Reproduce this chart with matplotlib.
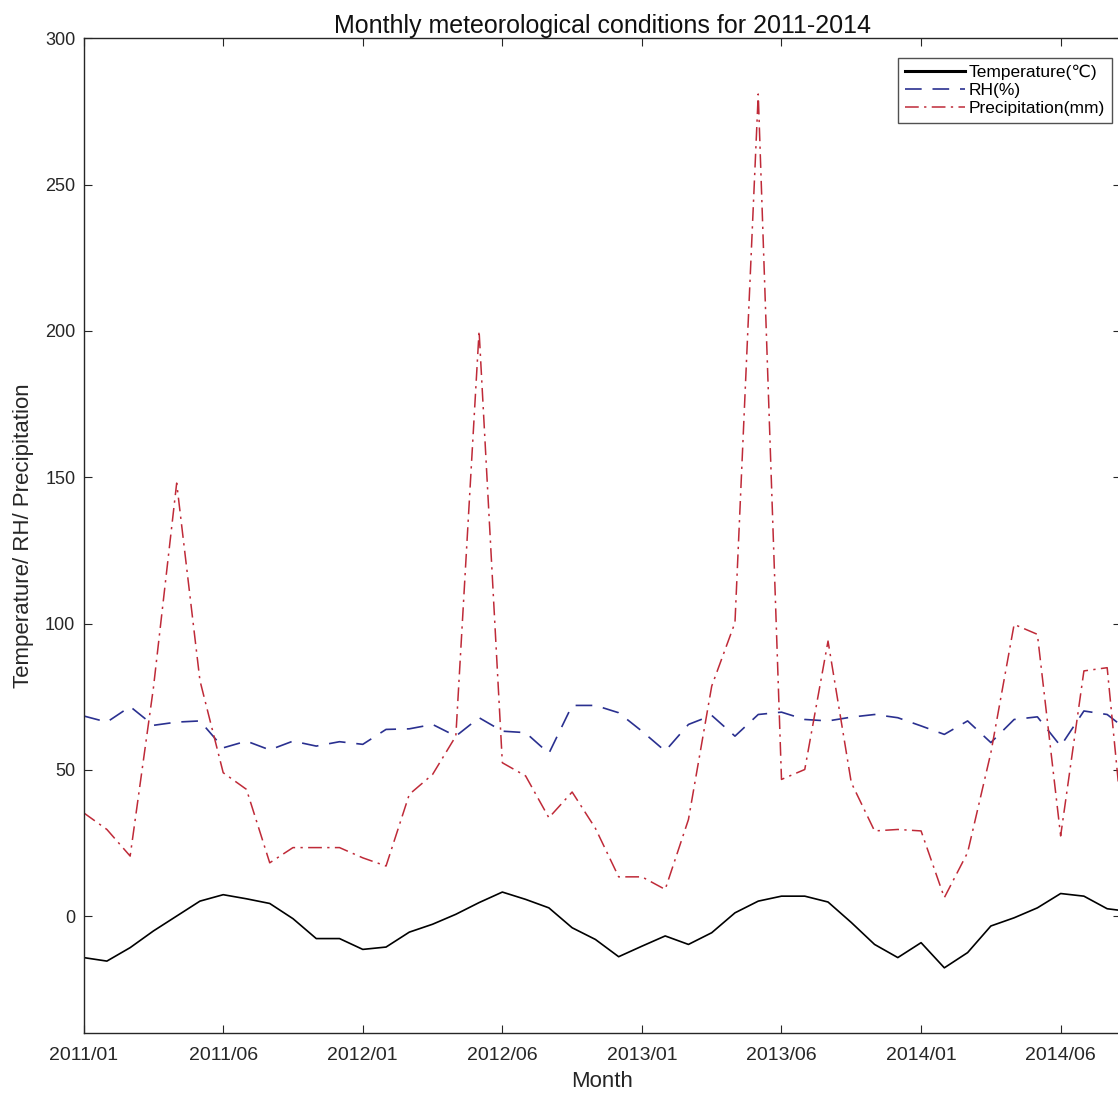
import matplotlib
matplotlib.use('Agg')
import matplotlib.pyplot as plt
import numpy as np

plt.rcParams['font.family'] = ['Liberation Sans', 'DejaVu Sans']

# Datos mensuales (indice 0 = 2011/01)
temperatura = [-14.2, -15.4, -10.8, -5.1, 0.0, 5.1, 7.3, 5.9, 4.3, -0.9,
               -7.7, -7.7, -11.4, -10.6, -5.5, -2.8, 0.6, 4.6, 8.2, 5.7,
               2.8, -4.0, -8.0, -13.9, -10.3, -6.8, -9.7, -5.7, 1.1, 5.1,
               6.8, 6.8, 4.8, -2.2, -9.7, -14.2, -9.1, -17.7, -12.5, -3.4,
               -0.6, 2.8, 7.7, 6.8, 2.5, 1.5]
rh = [68.4, 66.3, 71.6, 65.2, 66.3, 66.7, 57.5, 59.8, 56.8, 59.8,
      58.1, 59.6, 58.7, 63.8, 64.0, 65.5, 61.5, 67.8, 63.2, 62.7,
      55.6, 72.0, 72.0, 69.5, 63.2, 56.4, 65.5, 68.6, 61.5, 68.9,
      69.7, 67.2, 66.7, 68.0, 68.9, 67.8, 65.0, 62.1, 66.7, 59.3,
      67.2, 68.1, 58.1, 70.1, 68.9, 62.7]
precipitacion = [35.3, 29.6, 20.5, 78.0, 148.0, 80.5, 49.0, 43.3, 18.2, 23.4,
                 23.4, 23.4, 19.9, 17.1, 41.6, 48.4, 61.5, 200.0, 52.4, 47.9,
                 33.6, 42.4, 30.0, 13.4, 13.4, 9.1, 33.0, 78.6, 100.3, 281.0,
                 46.7, 50.1, 94.0, 45.6, 29.1, 29.6, 29.1, 6.3, 21.7, 55.8,
                 99.7, 96.3, 27.4, 83.8, 84.9, 3.0]
etiquetas = ['2011/01', '2011/06', '2012/01', '2012/06',
             '2013/01', '2013/06', '2014/01', '2014/06']

n = np.arange(len(temperatura))

fig = plt.figure(figsize=(11.18, 10.99), dpi=100)
ax = fig.add_axes([0.0748, 0.060, 0.928, 0.905])

ax.plot(n, temperatura, color='black', linewidth=1.2, label='Temperature(\u2103)')
ax.plot(n, rh, color='#2a3090', linestyle=(0, (10, 6.5)), linewidth=1.2, label='RH(%)')
ax.plot(n, precipitacion, color='#bf2a38', linestyle=(0, (9, 3.5, 1.5, 3.5)),
        linewidth=1.1, label='Precipitation(mm)')

ax.set_xlim(0, 44.6)
ax.set_ylim(-40, 300)
ax.set_xticks(np.arange(0, 6 * len(etiquetas), 6))
ax.set_xticklabels(etiquetas)
ax.set_yticks(np.arange(0, 301, 50))

ax.tick_params(direction='in', top=True, right=True, length=6,
               colors='#262626')
ax.tick_params(axis='x', labelsize=14, pad=10)
ax.tick_params(axis='y', labelsize=13, pad=6)
for s in ax.spines.values():
    s.set_color('#262626')
    s.set_linewidth(1.0)

ax.set_title('Monthly meteorological conditions for 2011-2014',
             fontsize=18, color='#111111', pad=4)
ax.set_xlabel('Month', fontsize=16, color='#262626', labelpad=5)
ax.set_ylabel('Temperature/ RH/ Precipitation', fontsize=16,
              color='#262626', labelpad=8)

leg = ax.legend(loc='upper right', bbox_to_anchor=(0.9913, 0.9804),
                fontsize=12.5, frameon=True, fancybox=False,
                edgecolor='#262626', handlelength=3.5, handletextpad=0.2,
                borderpad=0.4, labelspacing=0.15, borderaxespad=0)
leg.get_frame().set_linewidth(1.0)
leg.get_lines()[0].set_linewidth(2.2)

plt.savefig('out.png', dpi=100)
